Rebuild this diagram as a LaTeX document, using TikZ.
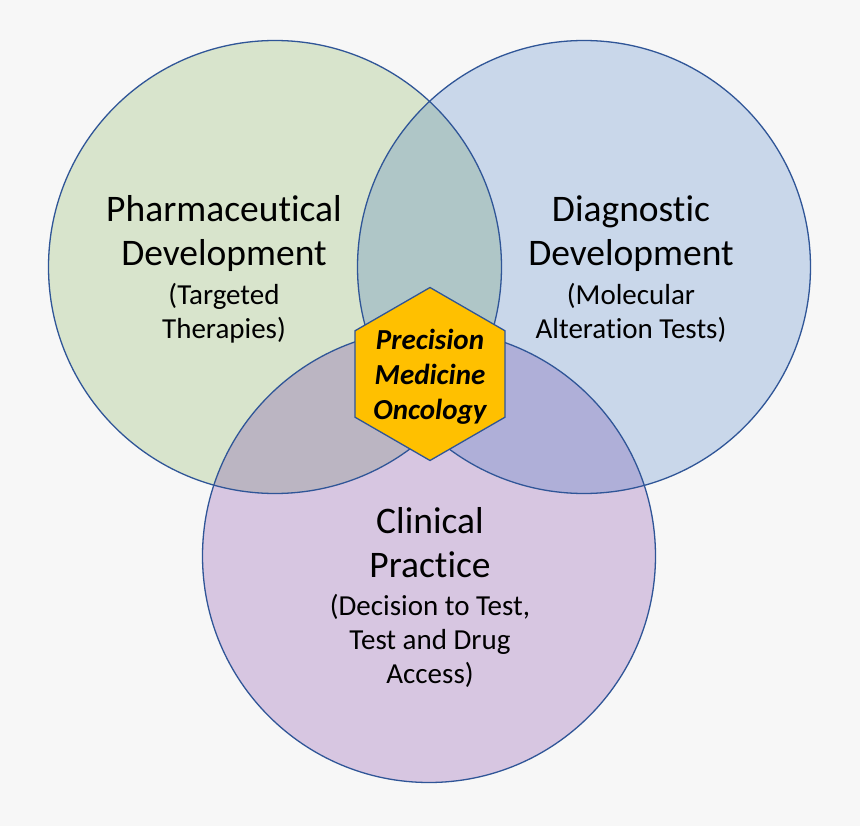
\documentclass[tikz,border=0pt]{standalone}
\usepackage{fontspec}
\setmainfont[Ligatures=NoCommon]{Carlito}
\usetikzlibrary{shapes.geometric}
\definecolor{vbg}{HTML}{F7F7F7}
\definecolor{vline}{HTML}{2F5597}
\definecolor{vgreen}{HTML}{D8E4CC}
\definecolor{vblue}{HTML}{C9D7EA}
\definecolor{vpurple}{HTML}{D7C6E1}
\definecolor{vgb}{HTML}{AFC6C7}
\definecolor{vgp}{HTML}{BBB5C2}
\definecolor{vbp}{HTML}{AFAFD8}
\definecolor{vgbp}{HTML}{A3A9C4}
\definecolor{vgold}{HTML}{FFC000}
\begin{document}
\begin{tikzpicture}[x=1pt,y=-1pt,
  venn/.style={circle, minimum size=453pt, inner sep=0pt},
  rim/.style={draw=vline, line width=1.3pt},
  title/.style={align=center, font=\fontsize{37.5}{44}\selectfont},
  sub/.style={align=center, font=\fontsize{29}{34}\selectfont},
  hexbox/.style={regular polygon, regular polygon sides=6, shape border rotate=30,
    minimum size=173pt, inner sep=0pt, fill=vgold, rim},
  hextext/.style={align=center, font=\fontsize{29}{35}\selectfont\bfseries\itshape}]
\fill[vbg] (0,0) rectangle (860,826);
\node[venn, fill=vgreen] (pharma) at (275,267){};
\node[venn, fill=vblue] (diag) at (584,267){};
\node[venn, fill=vpurple] (clin) at (429,556){};
\begin{scope}
\clip (pharma.center) circle[radius=226.5pt];
\fill[vgb] (diag.center) circle[radius=226.5pt];
\fill[vgp] (clin.center) circle[radius=226.5pt];
\end{scope}
\begin{scope}
\clip (diag.center) circle[radius=226.5pt];
\fill[vbp] (clin.center) circle[radius=226.5pt];
\end{scope}
\begin{scope}
\clip (pharma.center) circle[radius=226.5pt];
\clip (diag.center) circle[radius=226.5pt];
\fill[vgbp] (clin.center) circle[radius=226.5pt];
\end{scope}
\draw[rim] (pharma.center) circle[radius=226.5pt];
\draw[rim] (diag.center) circle[radius=226.5pt];
\draw[rim] (clin.center) circle[radius=226.5pt];
\node[title] (pharmaT) at (224,234){Pharmaceutical\\Development};
\node[sub] (pharmaS) at (224,313){(Targeted\\Therapies)};
\node[title] (diagT) at (631,234){Diagnostic\\Development};
\node[sub] (diagS) at (631,313){(Molecular\\Alteration Tests)};
\node[title] (clinT) at (430,543){Clinical\\Practice};
\node[sub] (clinS) at (430,641){(Decision to Test,\\Test and Drug\\Access)};
\node[hexbox] (pmo) at (430,374){};
\node[hextext] (pmoT) at (430,377){Precision\\Medicine\\Oncology};
\end{tikzpicture}
\end{document}
